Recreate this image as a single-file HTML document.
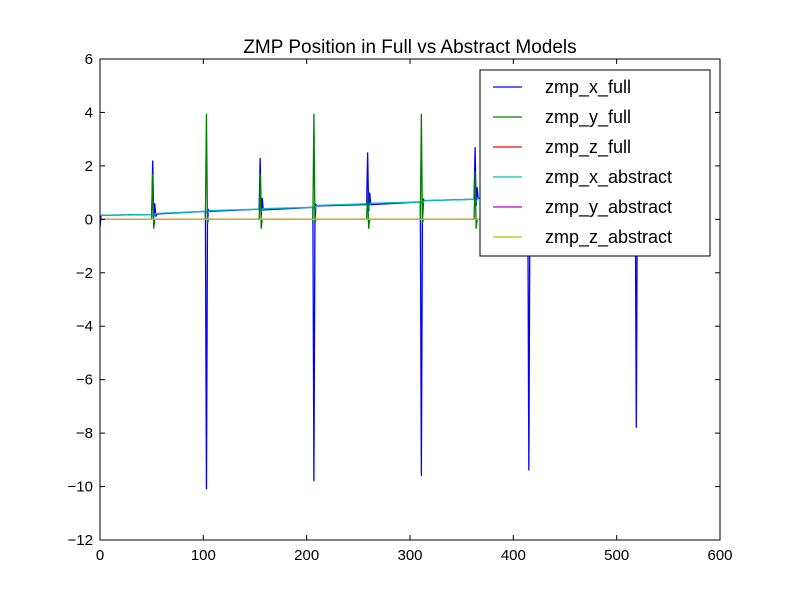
<!DOCTYPE html>
<html><head><meta charset="utf-8"><style>
body{margin:0;background:#fff}
svg text{font-family:"Liberation Sans","DejaVu Sans",sans-serif;fill:#000}
</style></head><body>
<svg id="chart" width="800" height="600" xmlns="http://www.w3.org/2000/svg">
<rect width="800" height="600" fill="#fff"/>
<text x="410" y="53" font-size="19" text-anchor="middle">ZMP Position in Full vs Abstract Models</text>
<g id="plot"></g>
<g id="axes"></g>
<g id="legend"></g>
</svg>
<script>
const xTicks=[0,100,200,300,400,500,600];
const yTicks=[6,4,2,0,-2,-4,-6,-8,-10,-12];
const seriesNames=["zmp_x_full","zmp_y_full","zmp_z_full","zmp_x_abstract","zmp_y_abstract","zmp_z_abstract"];
const seriesColors=["#0000ff","#008000","#ff0000","#00bfbf","#bf00bf","#bfbf00"];
const zmpXFull=[[0,-0.3],[1,0.15],[50,0.18],[51,2.2],[52,0.05],[53,0.6],[54,0.1],[55,0.2],[102,0.3],[103,-10.1],[104,-0.1],[105,0.35],[106,0.3],[154,0.38],[155,2.3],[156,0.1],[157,0.8],[158,0.35],[206,0.45],[207,-9.8],[208,-0.1],[209,0.55],[210,0.5],[258,0.55],[259,2.5],[260,0.3],[261,1.0],[262,0.55],[310,0.65],[311,-9.6],[312,-0.1],[313,0.75],[314,0.7],[362,0.75],[363,2.7],[364,0.5],[365,1.2],[366,0.78],[414,0.85],[415,-9.4],[416,0.0],[417,0.9],[466,0.95],[467,2.9],[468,0.9],[518,1.0],[519,-7.8],[520,1.0]];
const zmpYFull=[[0,0],[50,0],[51,1.7],[52,-0.35],[53,0],[102,0],[103,3.95],[104,-0.15],[105,0],[154,0],[155,1.7],[156,-0.35],[157,0],[206,0],[207,3.95],[208,-0.15],[209,0],[258,0],[259,1.0],[260,-0.35],[261,0],[310,0],[311,3.95],[312,-0.15],[313,0],[362,0],[363,1.8],[364,-0.35],[365,0],[414,0],[415,3.95],[416,0],[466,0],[467,1.8],[468,0],[518,0],[519,3.95],[520,0]];
const zmpZFull=[[0,0],[520,0]];
const zmpXAbstract=[[0,0.15],[50,0.18],[52,0.1],[54,0.22],[102,0.3],[104,0.2],[106,0.33],[154,0.38],[156,0.3],[158,0.4],[206,0.45],[208,0.4],[210,0.52],[258,0.58],[260,0.45],[262,0.6],[310,0.65],[312,0.6],[314,0.7],[362,0.75],[364,0.65],[366,0.8],[414,0.85],[466,0.95],[520,1.0]];
const zmpYAbstract=[[0,0],[520,0]];
const zmpZAbstract=[[0,0],[520,0]];
const allSeries=[zmpXFull,zmpYFull,zmpZFull,zmpXAbstract,zmpYAbstract,zmpZAbstract];
const L=100,R=720,T=59,B=540;
const sx=v=>L+(v-0)/600*(R-L);
const sy=v=>T+(6-v)/18*(B-T);
const NS="http://www.w3.org/2000/svg";
const plot=document.getElementById('plot'),axes=document.getElementById('axes'),leg=document.getElementById('legend');
function mk(tag,attrs,parent){const e=document.createElementNS(NS,tag);for(const k in attrs)e.setAttribute(k,attrs[k]);parent.appendChild(e);return e;}
const order=[0,3,1,2,4,5];
order.forEach(i=>{
  const p=mk('polyline',{points:allSeries[i].map(d=>sx(d[0])+','+sy(d[1])).join(' '),fill:'none',stroke:seriesColors[i],'stroke-width':1.3},plot);
  
  
});
const fr=mk('rect',{x:L,y:T,width:R-L,height:B-T,fill:'none',stroke:'#000','stroke-width':1},axes);


xTicks.forEach(t=>{
  const x=sx(t);
  mk('line',{x1:x,y1:B,x2:x,y2:B-5,stroke:'#000'},axes);
  mk('line',{x1:x,y1:T,x2:x,y2:T+5,stroke:'#000'},axes);
  const tx=mk('text',{x:x,y:B+20,'font-size':15,'text-anchor':'middle'},axes);tx.textContent=t;
  
  
});
yTicks.forEach(t=>{
  const y=sy(t);
  mk('line',{x1:L,y1:y,x2:L+5,y2:y,stroke:'#000'},axes);
  mk('line',{x1:R,y1:y,x2:R-5,y2:y,stroke:'#000'},axes);
  const tx=mk('text',{x:L-7,y:y+5,'font-size':15,'text-anchor':'end'},axes);tx.textContent=(t<0?'\u2212'+(-t):t);
  
  
});
const box=mk('rect',{x:480,y:70,width:230,height:186,fill:'#fff',stroke:'#000','stroke-width':1},leg);


seriesNames.forEach((n,i)=>{
  const y=87+i*30;
  const g=mk('g',{},leg);
  
  
  mk('line',{x1:493,y1:y,x2:522,y2:y,stroke:seriesColors[i],'stroke-width':1.3},g);
  const tx=mk('text',{x:545,y:y+6,'font-size':18},g);tx.textContent=n;
});
</script>
</body></html>
